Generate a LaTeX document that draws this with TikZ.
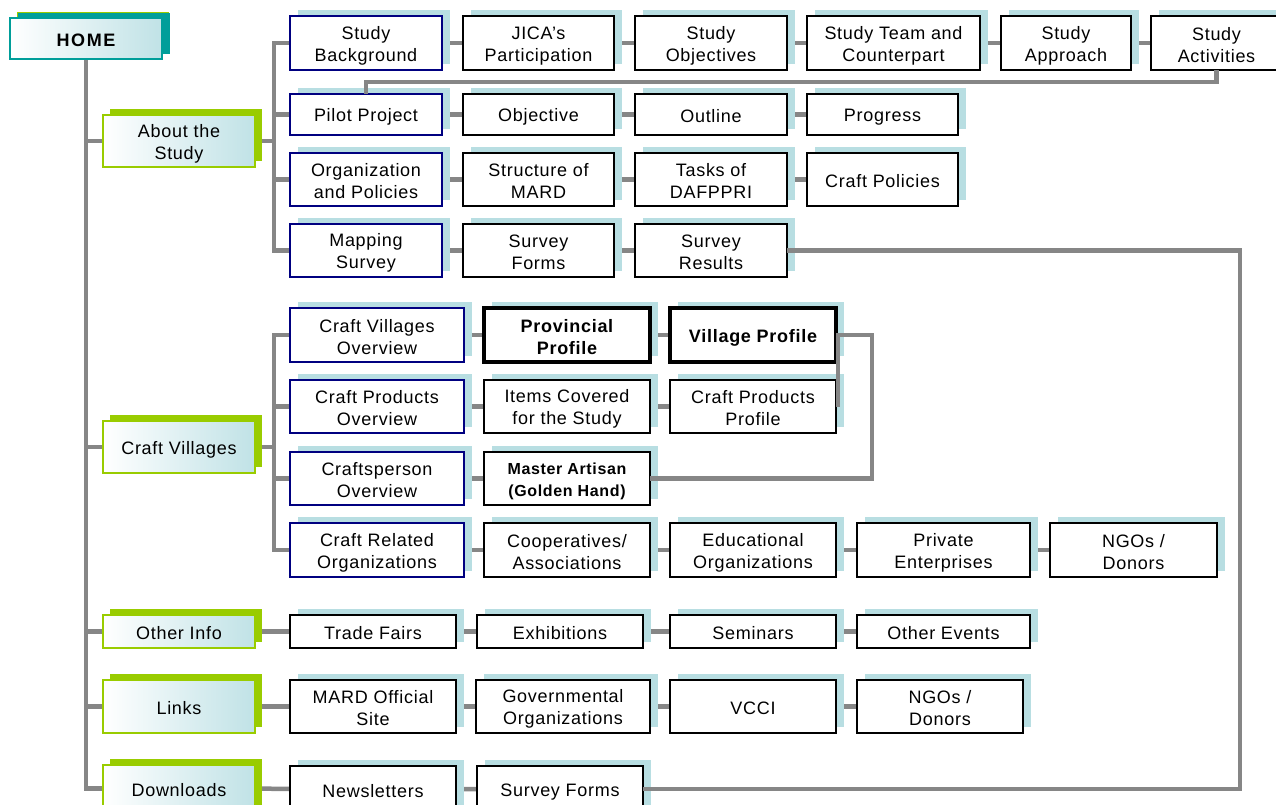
\documentclass[tikz,border=0pt]{standalone}
\usepackage{fontspec}
\setmainfont[LetterSpace=4]{Liberation Sans}
\newfontfamily\homefont[LetterSpace=9]{Liberation Sans}
\usetikzlibrary{shadows,backgrounds}

\definecolor{linegray}{RGB}{134,134,134}
\definecolor{shadowblue}{RGB}{184,222,226}
\definecolor{navyline}{RGB}{0,0,128}
\definecolor{menugreen}{RGB}{153,204,0}
\definecolor{menublue}{RGB}{192,226,230}
\definecolor{hometeal}{RGB}{0,158,154}

\newcommand\fs{\fontsize{18}{22}\selectfont}
\newcommand\fsm{\fontsize{16}{21}\selectfont}
% line strut that keeps the lines of every box on the same baselines
\newcommand\st{\rule[-2pt]{0pt}{20pt}}

% box helper: style, name, x1, y1, x2, y2 (pixel frame, y downwards), text
\newcommand\bx[7]{\node[#1, minimum width={(#5-#3)*1pt}, minimum height={(#6-#4)*1pt}] (#2) at ({(#3+#5)/2},{(#4+#6)/2}) {\st#7\st};}

\tikzset{
  conn/.style={draw=linegray, line width=4.5pt, line cap=rect},
  link/.style={draw=linegray, line width=4.5pt, line join=miter},
  sub/.style={draw=black, line width=1.4pt, fill=white, align=center,
    inner sep=0pt, outer sep=0pt, font=\fs,
    general shadow={fill=shadowblue, shadow xshift=8pt, shadow yshift=6pt}},
  sect/.style={sub, draw=navyline, line width=2.6pt},
  keybox/.style={sub, line width=3.6pt, font=\fs\bfseries},
  menu/.style={draw=menugreen, line width=2.4pt, left color=white, right color=menublue,
    align=center, inner sep=0pt, outer sep=0pt, font=\fs,
    general shadow={fill=menugreen, shadow xshift=7pt, shadow yshift=6pt}},
  homebox/.style={menu, draw=hometeal, font=\fs\homefont\bfseries,
    general shadow={fill=hometeal, shadow xshift=8pt, shadow yshift=5pt}},
}

\begin{document}
\begin{tikzpicture}[x=1pt,y=-1pt]
\useasboundingbox (0,0) rectangle (1276,804);

% main menu
\bx{homebox}{home}{10}{18}{162}{59}{HOME}
\bx{menu}{about}{103}{115}{255}{167}{About the\\Study}
\bx{menu}{cv}{103}{421}{255}{473}{Craft Villages}
\bx{menu}{oinfo}{103}{615}{255}{648}{Other Info}
\bx{menu}{links}{103}{680}{255}{733}{Links}
\bx{menu}{dl}{103}{765}{255}{812}{Downloads}

% About the Study
\bx{sect}{sb}{290}{16}{442}{70}{Study\\Background}
\bx{sub}{jica}{463}{16}{614}{70}{JICA’s\\Participation}
\bx{sub}{sobj}{635}{16}{787}{70}{Study\\Objectives}
\bx{sub}{steam}{807}{16}{980}{70}{Study Team and\\Counterpart}
\bx{sub}{sappr}{1001}{16}{1131}{70}{Study\\Approach}
\bx{sub}{sact}{1151}{16}{1282}{70}{Study\\Activities}

\bx{sect}{pilot}{290}{94}{442}{135}{Pilot Project}
\bx{sub}{obj}{463}{94}{614}{135}{Objective}
\bx{sub}{outl}{635}{94}{787}{135}{Outline}
\bx{sub}{prog}{807}{94}{958}{135}{Progress}

\bx{sect}{org}{290}{153}{442}{206}{Organization\\and Policies}
\bx{sub}{mard}{463}{153}{614}{206}{Structure of\\MARD}
\bx{sub}{dafp}{635}{153}{787}{206}{Tasks of\\DAFPPRI}
\bx{sub}{cpol}{807}{153}{958}{206}{Craft Policies}

\bx{sect}{map}{290}{224}{442}{277}{Mapping\\Survey}
\bx{sub}{sform}{463}{224}{614}{277}{Survey\\Forms}
\bx{sub}{sres}{635}{224}{787}{277}{Survey\\Results}

% Craft Villages
\bx{sect}{cvo}{290}{308}{464}{362}{Craft Villages\\Overview}
\bx{keybox}{prov}{484}{308}{650}{362}{Provincial\\Profile}
\bx{keybox}{vprof}{670}{308}{836}{362}{Village Profile}

\bx{sect}{cpo}{290}{380}{464}{433}{Craft Products\\Overview}
\bx{sub}{items}{484}{380}{650}{433}{Items Covered\\for the Study}
\bx{sub}{cpp}{670}{380}{836}{433}{Craft Products\\Profile}

\bx{sect}{csp}{290}{452}{464}{505}{Craftsperson\\Overview}
\bx{sub}{master}{484}{452}{650}{505}{\fsm\bfseries Master Artisan\\\fsm\bfseries (Golden Hand)}

\bx{sect}{cro}{290}{523}{464}{577}{Craft Related\\Organizations}
\bx{sub}{coop}{484}{523}{650}{577}{Cooperatives/\\Associations}
\bx{sub}{edu}{670}{523}{836}{577}{Educational\\Organizations}
\bx{sub}{priv}{857}{523}{1030}{577}{Private\\Enterprises}
\bx{sub}{ngoa}{1050}{523}{1217}{577}{NGOs /\\Donors}

% Other Info
\bx{sub}{trade}{290}{615}{456}{648}{Trade Fairs}
\bx{sub}{exh}{477}{615}{643}{648}{Exhibitions}
\bx{sub}{sem}{670}{615}{836}{648}{Seminars}
\bx{sub}{oev}{857}{615}{1030}{648}{Other Events}

% Links
\bx{sub}{msite}{290}{680}{456}{733}{MARD Official\\Site}
\bx{sub}{gov}{476}{680}{650}{733}{Governmental\\Organizations}
\bx{sub}{vcci}{670}{680}{836}{733}{VCCI}
\bx{sub}{ngob}{857}{680}{1023}{733}{NGOs /\\Donors}

% Downloads
\bx{sub}{news}{290}{766}{456}{812}{Newsletters}
\bx{sub}{sfb}{477}{766}{643}{812}{Survey Forms}

\coordinate (abus) at (274,0);
\coordinate (rbus) at (1240,0);
\coordinate (vbus) at (872,0);

\begin{pgfonlayer}{background}
  % main trunk
  \draw[conn] (home.south) |- (dl.west);
  \draw[conn] (home.south |- about.west) -- (about.west);
  \draw[conn] (home.south |- cv.west) -- (cv.west);
  \draw[conn] (home.south |- oinfo.west) -- (oinfo.west);
  \draw[conn] (home.south |- links.west) -- (links.west);
  % About the Study branches
  \draw[conn] (about.east) -- (about.east -| abus);
  \draw[conn] (sb.west -| abus) -- (map.west -| abus);
  \draw[conn] (sb.west -| abus) -- (sb.west);
  \draw[conn] (pilot.west -| abus) -- (pilot.west);
  \draw[conn] (org.west -| abus) -- (org.west);
  \draw[conn] (map.west -| abus) -- (map.west);
  \draw[conn] (sb.east) -- (jica.west) (jica.east) -- (sobj.west)
    (sobj.east) -- (steam.west) (steam.east) -- (sappr.west) (sappr.east) -- (sact.west);
  \draw[conn] (pilot.east) -- (obj.west) (obj.east) -- (outl.west) (outl.east) -- (prog.west);
  \draw[conn] (org.east) -- (mard.west) (mard.east) -- (dafp.west) (dafp.east) -- (cpol.west);
  \draw[conn] (map.east) -- (sform.west) (sform.east) -- (sres.west);
  % Craft Villages branches
  \draw[conn] (cv.east) -- (cv.east -| abus);
  \draw[conn] (cvo.west -| abus) -- (cro.west -| abus);
  \draw[conn] (cvo.west -| abus) -- (cvo.west);
  \draw[conn] (cpo.west -| abus) -- (cpo.west);
  \draw[conn] (csp.west -| abus) -- (csp.west);
  \draw[conn] (cro.west -| abus) -- (cro.west);
  \draw[conn] (cvo.east) -- (prov.west) (prov.east) -- (vprof.west);
  \draw[conn] (cpo.east) -- (items.west) (items.east) -- (cpp.west);
  \draw[conn] (csp.east) -- (master.west);
  \draw[conn] (cro.east) -- (coop.west) (coop.east) -- (edu.west)
    (edu.east) -- (priv.west) (priv.east) -- (ngoa.west);
  % Other Info, Links, Downloads
  \draw[conn] (oinfo.east) -- (trade.west) (trade.east) -- (exh.west)
    (exh.east) -- (sem.west) (sem.east) -- (oev.west);
  \draw[conn] (links.east) -- (msite.west) (msite.east) -- (gov.west)
    (gov.east) -- (vcci.west) (vcci.east) -- (ngob.west);
  \draw[conn] (dl.east) -- (news.west) (news.east) -- (sfb.west);
\end{pgfonlayer}

% cross links
\draw[link] (sact.south) -- ++(0,12) -| (pilot.north);
\draw[link] (sres.east) -- (sres.east -| rbus) |- (sfb.east);
\draw[link] ([xshift=2pt]cpp.east) |- (vprof.east -| vbus) |- (master.east);

\end{tikzpicture}
\end{document}
